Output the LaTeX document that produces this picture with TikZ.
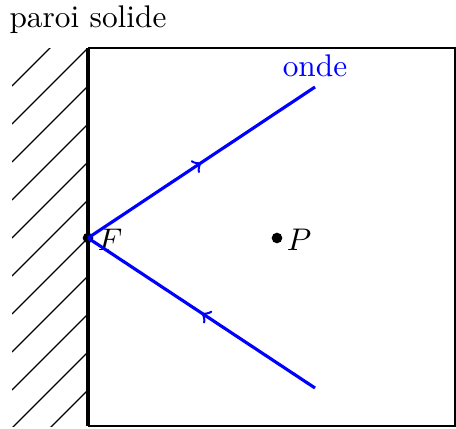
\documentclass[tikz,border=0pt]{standalone}
\usetikzlibrary{decorations.markings}
\begin{document}
\begin{tikzpicture}[x=0.3193pt,y=-0.3193pt,
  wave/.style={blue,line width=1pt,postaction={decorate},
    decoration={markings,mark=at position 0.5 with {\arrow[line width=0.8pt]{>}}}},
  hatch/.style={line width=0.4pt},
  dot/.style={circle,fill=black,inner sep=0pt,minimum size=3.4pt}]
\useasboundingbox (0,0) rectangle (456,429);
% hatching
\begin{scope}
  \clip (12,48) rectangle (88,426);
  \foreach \k in {0,...,10}
    \draw[hatch] (12,{86+38*\k}) -- (88,{10+38*\k});
\end{scope}
% box
\draw[line width=0.7pt] (88,48) -- (455,48) -- (455,426) -- (88,426);
\draw[line width=1pt] (88,48) -- (88,426);
% points
\coordinate (F) at (88,238);
\coordinate (A) at (315,87);
\coordinate (B) at (315,388);
\node[dot] (Fd) at (F) {};
\node[dot] (Pd) at (277,238) {};
\node[anchor=west,inner sep=1pt] (Fl) at (94,240) {$F$};
\node[anchor=west,inner sep=1pt] (Pl) at (283,240) {$P$};
\draw[wave] (F) -- (A);
\draw[wave] (B) -- (F);
\node[blue] (onde) at (315,66) {onde};
\node (paroi) at (88,20) {paroi solide};
\end{tikzpicture}
\end{document}
